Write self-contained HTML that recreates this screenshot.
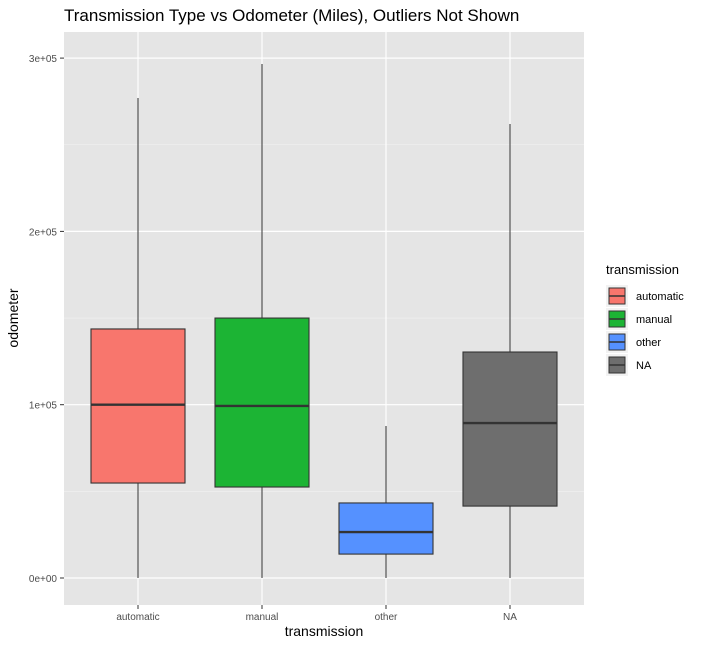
<!DOCTYPE html>
<html><head><meta charset="utf-8"><style>
body{margin:0;background:#fff;font-family:"Liberation Sans",Arial,sans-serif}
</style></head><body>
<svg id="chart" width="703" height="647" xmlns="http://www.w3.org/2000/svg">
<text x="64" y="21" font-size="17" fill="#000">Transmission Type vs Odometer (Miles), Outliers Not Shown</text>
<rect x="64" y="32" width="520" height="573" fill="#e5e5e5"/>
<g id="grid"></g>
<g id="boxes"></g>
<g id="axes"></g>
<text x="324" y="636" font-size="14" text-anchor="middle">transmission</text>
<text transform="translate(18,318) rotate(-90)" font-size="14" text-anchor="middle">odometer</text>
<g id="legend"></g>
</svg>
<script>
const categories=["automatic","manual","other","NA"];
const colors=["#f8766d","#1cb434","#5591ff","#6e6e6e"];
const lowers=[0,0,0,0];
const q1s=[54800,52500,13800,41500];
const medians=[100000,99300,26500,89400];
const q3s=[143700,150000,43300,130400];
const uppers=[277000,296600,87700,262000];
const yTicks=[0,100000,200000,300000];
const yTickLabels=["0e+00","1e+05","2e+05","3e+05"];
const NS="http://www.w3.org/2000/svg";
const y=v=>578-v/100000*173.3;
const x=i=>138+i*124;
const bw=94;
function mk(tag,attrs,parent){const e=document.createElementNS(NS,tag);for(const k in attrs)e.setAttribute(k,attrs[k]);document.getElementById(parent).appendChild(e);return e;}
// minor grid
for(let i=0;i<yTicks.length-1;i++){
 const l=mk('line',{x1:64,x2:584,y1:y((yTicks[i]+yTicks[i+1])/2),y2:y((yTicks[i]+yTicks[i+1])/2),stroke:'#f2f2f2','stroke-width':0.6},'grid');
 
 
}
yTicks.forEach((t,i)=>{
 const l=mk('line',{x1:64,x2:584,y1:y(t),y2:y(t),stroke:'#fff','stroke-width':1.2},'grid');
 
 
 const tk=mk('line',{x1:60,x2:64,y1:y(t),y2:y(t),stroke:'#333'},'axes');
 
 
 const tx=mk('text',{x:57,y:y(t)+4,'font-size':10,'text-anchor':'end',fill:'#4d4d4d'},'axes');
 tx.textContent=yTickLabels[i];
 
 
});
categories.forEach((c,i)=>{
 const l=mk('line',{x1:x(i),x2:x(i),y1:32,y2:605,stroke:'#fff','stroke-width':1.2},'grid');
 
 
 const tk=mk('line',{x1:x(i),x2:x(i),y1:605,y2:609,stroke:'#333'},'axes');
 
 
 const tx=mk('text',{x:x(i),y:620,'font-size':10,'text-anchor':'middle',fill:'#4d4d4d'},'axes');
 tx.textContent=c;
 
 
 const w1=mk('line',{x1:x(i),x2:x(i),y1:y(uppers[i]),y2:y(q3s[i]),stroke:'#333'},'boxes');
 
 
 const w2=mk('line',{x1:x(i),x2:x(i),y1:y(q1s[i]),y2:y(lowers[i]),stroke:'#333'},'boxes');
 
 
 const b=mk('rect',{x:x(i)-bw/2,y:y(q3s[i]),width:bw,height:y(q1s[i])-y(q3s[i]),fill:colors[i],stroke:'#333','stroke-width':1.1},'boxes');
 
 
 const m=mk('line',{x1:x(i)-bw/2,x2:x(i)+bw/2,y1:y(medians[i]),y2:y(medians[i]),stroke:'#333','stroke-width':2.4},'boxes');
 
 
 // legend
 const ky=285+i*23;
 const kb=mk('rect',{x:606,y:ky,width:22,height:22,fill:'#f2f2f2'},'legend');
 
 
 const kr=mk('rect',{x:609,y:ky+3,width:16,height:16,fill:colors[i],stroke:'#333','stroke-width':1},'legend');
 
 
 const kl=mk('line',{x1:609,x2:625,y1:ky+11,y2:ky+11,stroke:'#333','stroke-width':1.5},'legend');
 
 
 const lt=mk('text',{x:636,y:ky+15,'font-size':11},'legend');
 lt.textContent=c;
 
 
});
const lt=mk('text',{x:606,y:274,'font-size':13},'legend');
lt.textContent='transmission';


</script>
</body></html>
